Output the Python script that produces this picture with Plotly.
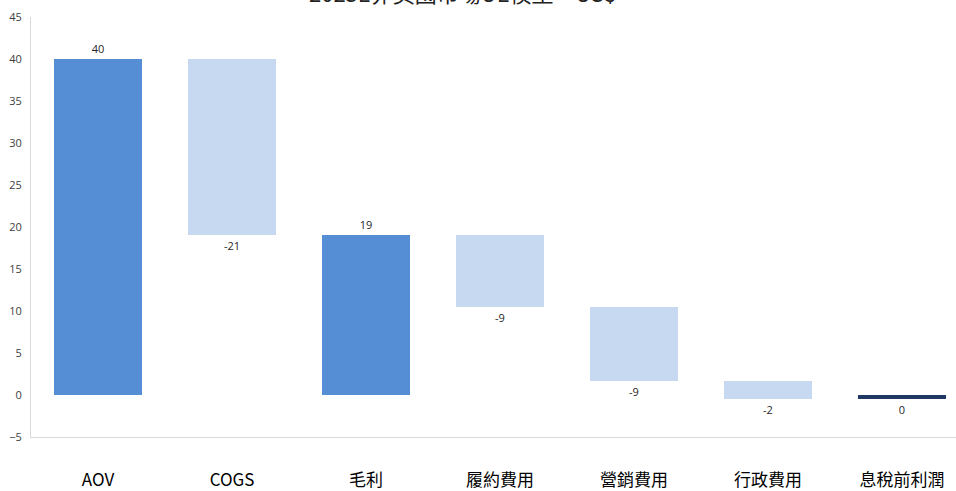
import plotly.graph_objects as go

categories = ["AOV", "COGS", "毛利", "履約費用", "營銷費用", "行政費用", "息稅前利潤"]
# step values (delta for cost items, level for totals)
values = [40.0, -21.0, 19.0, -8.5, -8.8, -2.2, -0.5]
kinds = ["total", "delta", "total", "delta", "delta", "delta", "end"]
labels = ["40", "-21", "19", "-9", "-9", "-2", "0"]
y_ticks = [-5, 0, 5, 10, 15, 20, 25, 30, 35, 40, 45]

colors = {"total": "#558ED5", "delta": "#C6D9F1", "end": "#1F3864"}

bases, heights, cols = [], [], []
level = 0.0
for v, k in zip(values, kinds):
    if k == "delta":
        bases.append(level)
        heights.append(v)
        level += v
    else:
        bases.append(0)
        heights.append(v)
        level = v
    cols.append(colors[k])

fig = go.Figure(go.Bar(
    x=categories, y=heights, base=bases,
    marker=dict(color=cols, line=dict(width=0)),
    width=0.657,
    text=labels, textposition="outside",
    textfont=dict(size=11, color="#262626", family="Open Sans, sans-serif"),
    cliponaxis=False,
    hoverinfo="skip",
))

fig.add_annotation(
    text="2025E非美國市場UE模型 – US$",
    xref="paper", yref="paper", x=0.466, y=(440 - 10) / 423,
    xanchor="center", yanchor="bottom", showarrow=False,
    font=dict(size=22, color="#222222", family="Noto Sans CJK TC"),
)

fig.update_layout(
    width=956, height=491,
    margin=dict(l=31, r=0, t=17, b=50),
    paper_bgcolor="white", plot_bgcolor="white",
    showlegend=False,
    font=dict(family="Noto Sans CJK TC"),
    bargap=0,
)
fig.update_xaxes(
    range=[-0.5, 6.403],
    showgrid=False, zeroline=False,
    showline=True, linecolor="#D9D9D9", linewidth=1,
    ticks="", ticklabelstandoff=28,
    tickfont=dict(size=17, color="#000000", family="Noto Sans CJK TC"),
)
fig.update_yaxes(
    range=[-5, 45], tickvals=y_ticks,
    showgrid=False, zeroline=False,
    showline=True, linecolor="#D9D9D9", linewidth=1,
    ticks="", ticklabelstandoff=6,
    tickfont=dict(size=11, color="#404040", family="Open Sans, sans-serif"),
)

fig.write_html("out.html")
